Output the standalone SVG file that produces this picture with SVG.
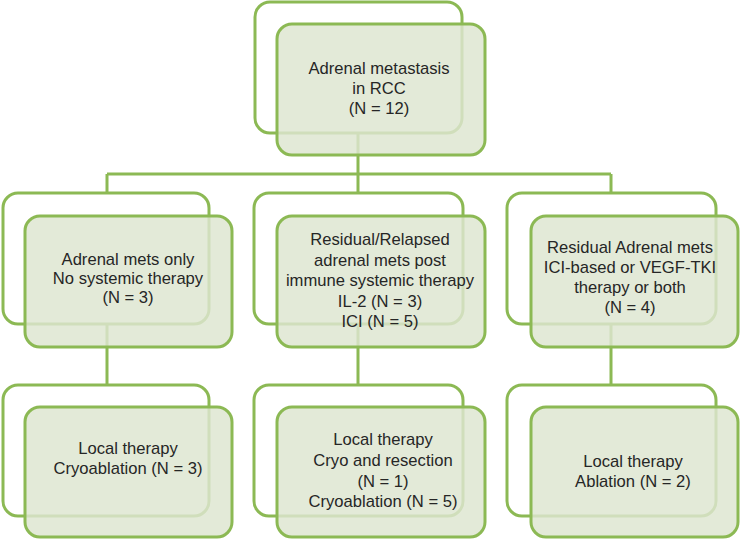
<svg xmlns="http://www.w3.org/2000/svg" width="740" height="539" viewBox="0 0 740 539">
<style>
.back{fill:#ffffff;stroke:#8cb954;stroke-width:3}
.front{fill:#dde6d0;fill-opacity:0.83;stroke:#8cb954;stroke-width:3}
.conn{fill:none;stroke:#8cb954;stroke-width:3}
text{font-family:"Liberation Sans",Arial,sans-serif;font-size:16.6px;fill:#262626;text-anchor:middle}
</style>
<rect width="740" height="539" fill="#ffffff"/>
<g id="backs">
<rect class="back" x="255" y="2" width="207" height="131" rx="15"/>
<rect class="back" x="3" y="193" width="206" height="131" rx="15"/>
<rect class="back" x="254" y="193" width="209" height="131" rx="15"/>
<rect class="back" x="507" y="193" width="209" height="131" rx="15"/>
<rect class="back" x="3" y="385" width="206" height="131" rx="15"/>
<rect class="back" x="254" y="385" width="209" height="131" rx="15"/>
<rect class="back" x="507" y="385" width="209" height="131" rx="15"/>
</g>
<g id="connectors">
<path class="conn" d="M358,133 V174 M107,174 H611 M107,174 V193 M358,174 V193 M611,174 V193"/>
<path class="conn" d="M107,324 V385 M358,324 V385 M611,324 V385"/>
</g>
<g id="root">
<rect class="front" x="277" y="24" width="208" height="131" rx="15"/>
<text x="379" y="74">Adrenal metastasis</text>
<text x="379" y="94">in RCC</text>
<text x="379" y="114">(N = 12)</text>
</g>
<g id="mid-left">
<rect class="front" x="25" y="216" width="207" height="131" rx="15"/>
<text x="128" y="265">Adrenal mets only</text>
<text x="128" y="284">No systemic therapy</text>
<text x="128" y="303">(N = 3)</text>
</g>
<g id="mid-center">
<rect class="front" x="277" y="216" width="208" height="131" rx="15"/>
<text x="380" y="245">Residual/Relapsed</text>
<text x="380" y="265.5">adrenal mets post</text>
<text x="380" y="286">immune systemic therapy</text>
<text x="380" y="306.5">IL-2 (N = 3)</text>
<text x="380" y="327">ICI (N = 5)</text>
</g>
<g id="mid-right">
<rect class="front" x="531" y="216" width="207" height="131" rx="15"/>
<text x="630" y="253">Residual Adrenal mets</text>
<text x="630" y="273">ICI-based or VEGF-TKI</text>
<text x="630" y="293">therapy or both</text>
<text x="630" y="313">(N = 4)</text>
</g>
<g id="bottom-left">
<rect class="front" x="25" y="407" width="207" height="130" rx="15"/>
<text x="128" y="454">Local therapy</text>
<text x="128" y="474">Cryoablation (N = 3)</text>
</g>
<g id="bottom-center">
<rect class="front" x="277" y="407" width="208" height="130" rx="15"/>
<text x="383" y="445">Local therapy</text>
<text x="383" y="466">Cryo and resection</text>
<text x="383" y="486.5">(N = 1)</text>
<text x="383" y="507">Cryoablation (N = 5)</text>
</g>
<g id="bottom-right">
<rect class="front" x="531" y="407" width="207" height="130" rx="15"/>
<text x="633" y="467">Local therapy</text>
<text x="633" y="487">Ablation (N = 2)</text>
</g>
</svg>
